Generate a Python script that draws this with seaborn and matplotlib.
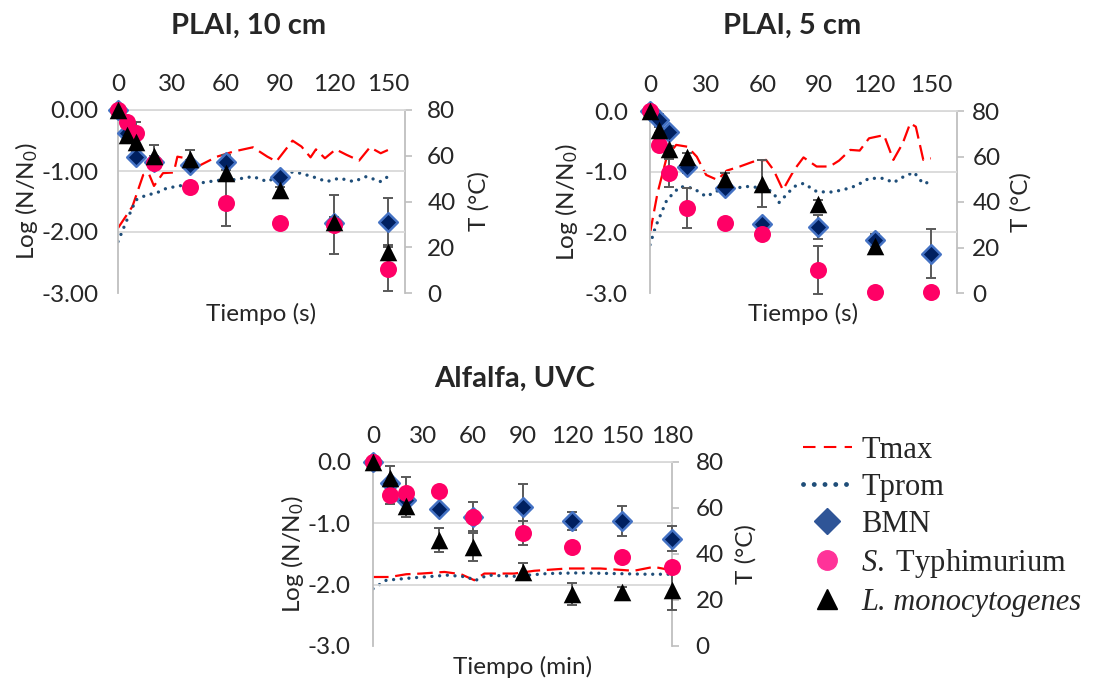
import matplotlib
matplotlib.use("Agg")
import matplotlib.pyplot as plt
from matplotlib.lines import Line2D
from matplotlib.ticker import FormatStrFormatter
import numpy as np
import seaborn as sns

# ---- PLAI, 10 cm ----
t_10 = [0, 5, 10, 20, 40, 60, 90, 120, 150]
bmn_10 = [0, -0.38, -0.77, -0.86, -0.90, -0.86, -1.10, -1.85, -1.83]
bmn_10_sd = [0, 0.05, 0.08, 0.10, 0.08, 0.12, 0.05, 0.10, 0.39]
sty_10 = [0, -0.19, -0.38, -0.87, -1.27, -1.53, -1.86, -1.88, -2.60]
sty_10_sd = [0, 0.05, 0.18, 0.10, 0.07, 0.37, 0.05, 0.48, 0.37]
lmo_10 = [0, -0.41, -0.52, -0.75, -0.80, -1.04, -1.31, -1.83, -2.32]
lmo_10_sd = [0, 0.05, 0.05, 0.17, 0.14, 0.10, 0.05, 0.08, 0.08]
tmax_10_t = [0, 8, 14, 17, 20, 25, 31, 33, 38, 40, 45, 55, 64, 75, 83, 88,
             97, 102, 107, 110, 115, 121, 127, 134, 140, 146, 150]
tmax_10 = [28.4, 37.8, 51.6, 52.4, 46.8, 52.4, 52.7, 59.6, 58.9, 52.4, 55.6,
           59.6, 61.8, 63.7, 59.6, 57.5, 66.6, 64.0, 59.3, 62.8, 58.9, 62.8,
           60.4, 57.9, 63.7, 61.1, 62.5]
tprom_10_t = [0, 5, 10, 16, 21, 27, 34, 40, 45, 55, 64, 75, 83, 94, 101,
              108, 116, 123, 131, 138, 146, 150]
tprom_10 = [22.5, 32.0, 40.7, 42.9, 43.6, 45.8, 46.8, 47.7, 48.0, 49.2, 49.5,
            50.9, 48.7, 53.1, 52.4, 50.9, 48.7, 50.2, 48.7, 50.9, 48.7, 50.9]

# ---- PLAI, 5 cm ----
t_5 = [0, 5, 10, 20, 40, 60, 90, 120, 150]
bmn_5 = [0, -0.15, -0.34, -0.92, -1.27, -1.86, -1.91, -2.13, -2.35]
bmn_5_sd = [0, 0.10, 0.05, 0.10, 0.08, 0.07, 0.20, 0.10, 0.40]
sty_5 = [0, -0.56, -1.02, -1.60, -1.84, -2.02, -2.62, -2.98, -2.98]
sty_5_sd = [0, 0.05, 0.23, 0.33, 0.08, 0.03, 0.39, 0.02, 0.02]
lmo_5 = [0, -0.32, -0.62, -0.76, -1.12, -1.20, -1.53, -2.22, np.nan]
lmo_5_sd = [0, 0.05, 0.05, 0.06, 0.10, 0.39, 0.07, 0.08, np.nan]
tmax_5_t = [0, 4, 9, 14, 20, 25, 30, 36, 41, 48, 55, 62, 66, 71, 77, 82, 89,
            96, 101, 107, 112, 117, 125, 130, 135, 139, 142, 146, 150]
tmax_5 = [26.3, 43.9, 59.9, 65.1, 64.3, 59.9, 51.9, 49.7, 53.8, 55.6, 57.7,
          58.5, 54.1, 45.3, 54.1, 59.6, 55.6, 55.6, 58.2, 62.9, 62.6, 68.0,
          69.4, 58.5, 65.8, 74.6, 73.1, 58.5, 59.2]
tprom_5_t = [0, 3, 9, 16, 23, 30, 37, 45, 52, 62, 66, 69, 77, 82, 89, 96,
             103, 110, 117, 125, 130, 135, 141, 146, 150]
tprom_5 = [21.2, 29.2, 40.9, 46.8, 46.1, 42.4, 45.3, 46.1, 46.8, 46.1, 43.9,
           39.8, 46.8, 48.2, 44.6, 44.3, 45.3, 47.1, 50.4, 50.4, 48.5, 50.9,
           53.1, 48.0, 49.0]

# ---- Alfalfa, UVC ----
t_uv = [0, 10, 20, 40, 60, 90, 120, 150, 180]
bmn_uv = [0, -0.34, -0.62, -0.77, -0.89, -0.73, -0.96, -0.96, -1.25]
bmn_uv_sd = [0, 0.05, 0.06, 0.05, 0.24, 0.37, 0.15, 0.25, 0.20]
sty_uv = [0, -0.54, -0.51, -0.48, -0.89, -1.16, -1.39, -1.55, -1.71]
sty_uv_sd = [0, 0.15, 0.27, 0.05, 0.05, 0.19, 0.05, 0.05, 0.05]
lmo_uv = [0, -0.26, -0.72, -1.27, -1.38, -1.79, -2.15, -2.12, -2.09]
lmo_uv_sd = [0, 0.20, 0.17, 0.19, 0.23, 0.14, 0.18, 0.08, 0.33]
tmax_uv_t = [0, 10, 20, 29, 43, 53, 61, 67, 85, 97, 117, 137, 157, 169, 180]
tmax_uv = [30.0, 30.0, 31.2, 31.5, 32.2, 31.2, 28.6, 31.5, 31.5, 32.7, 33.7,
           33.7, 32.7, 34.4, 32.9]
tprom_uv_t = [0, 8, 25, 45, 57, 61, 69, 85, 105, 125, 145, 165, 180]
tprom_uv = [24.9, 28.6, 29.7, 30.8, 30.0, 28.3, 30.8, 30.3, 31.5, 31.8, 31.5,
            31.2, 31.2]

W, H = 1093, 681
FS = 17.5

sns.set_style("white")
plt.rcParams["font.family"] = ["Lato", "DejaVu Sans"]
plt.rcParams["axes.unicode_minus"] = False
plt.rcParams["mathtext.fontset"] = "custom"
plt.rcParams["mathtext.it"] = "Liberation Serif:italic"
plt.rcParams["mathtext.rm"] = "Liberation Serif"

RED = "#FF0000"
TBLUE = "#1F4E79"
NAVY = "#002060"
BLUE_EDGE = "#4472C4"
PINK = "#FF0066"
GRID = "#D9D9D9"
AXIS = "#BFBFBF"
ERR = "#595959"

fig = plt.figure(figsize=(W / 100, H / 100), dpi=100)


def px_rect(left, top, right, bottom):
    return [left / W, 1 - bottom / H, (right - left) / W, (bottom - top) / H]


def draw_panel(rect, t, series, tmax_t, tmax, tprom_t, tprom, xmax, xticks,
               yfmt, xlabel, lpad, rpad, ylab_x, rlab_x):
    ax = fig.add_axes(rect)
    ax2 = ax.twinx()
    ax.set_zorder(ax2.get_zorder() + 1)
    ax.patch.set_visible(False)

    # temperature curves on the secondary axis
    sns.lineplot(x=tmax_t, y=tmax, ax=ax2, color=RED, linewidth=1.6,
                 linestyle=(0, (7, 3)), sort=False)
    sns.lineplot(x=tprom_t, y=tprom, ax=ax2, color=TBLUE, linewidth=2.4,
                 linestyle=(0, (0.01, 2.3)), dash_capstyle="round", sort=False)
    ax2.set_ylim(0, 80)
    ax2.set_yticks([0, 20, 40, 60, 80])
    ax2.set_ylabel("T (°C)", fontsize=FS, va="center")
    ax2.yaxis.set_label_coords(rlab_x, 0.5)
    ax2.tick_params(axis="y", direction="out", length=5, width=1.2,
                    color=AXIS, pad=rpad, labelsize=FS)
    for s in ["top", "bottom", "left"]:
        ax2.spines[s].set_visible(False)
    ax2.spines["right"].set_color(AXIS)
    ax2.spines["right"].set_linewidth(1.3)

    # counts
    bmn, bmn_sd, sty, sty_sd, lmo, lmo_sd = series
    for vals, sd in [(bmn, bmn_sd), (sty, sty_sd), (lmo, lmo_sd)]:
        ax.errorbar(t, vals, yerr=sd, fmt="none", ecolor=ERR, elinewidth=1.4,
                    capsize=3.5, capthick=1.4, zorder=2, clip_on=False)
    sns.scatterplot(x=t, y=bmn, ax=ax, marker="D", s=90, color=NAVY,
                    edgecolor=BLUE_EDGE, linewidth=1.8, zorder=3, clip_on=False)
    sns.scatterplot(x=t, y=sty, ax=ax, marker="o", s=150, color=PINK,
                    edgecolor=PINK, linewidth=0, zorder=4, clip_on=False)
    sns.scatterplot(x=t, y=lmo, ax=ax, marker="^", s=160, color="black",
                    edgecolor="black", linewidth=0, zorder=5, clip_on=False)

    ax.set_xlim(0, xmax)
    ax.set_xticks(xticks)
    ax.set_ylim(-3, 0)
    ax.set_yticks([-3, -2, -1, 0])
    ax.yaxis.set_major_formatter(FormatStrFormatter(yfmt))
    ax.tick_params(axis="x", top=True, bottom=False, labeltop=True,
                   labelbottom=False, length=0, pad=11, labelsize=FS)
    ax.tick_params(axis="y", length=0, pad=lpad, labelsize=FS)
    ax.grid(axis="y", color=GRID, linewidth=1.3)
    ax.grid(axis="x", visible=False)
    ax.get_ygridlines()[0].set_visible(False)
    for s in ["right", "bottom"]:
        ax.spines[s].set_visible(False)
    ax.spines["top"].set_color(GRID)
    ax.spines["top"].set_linewidth(1.3)
    ax.spines["left"].set_color(AXIS)
    ax.spines["left"].set_linewidth(1.3)
    ax.set_xlabel(xlabel, fontsize=FS, labelpad=7)
    ax.set_ylabel("Log (N/N$_\\mathregular{0}$)", fontsize=FS, va="center")
    ax.yaxis.set_label_coords(ylab_x, 0.5)
    return ax


draw_panel(px_rect(118, 110, 405, 293), t_10,
           (bmn_10, bmn_10_sd, sty_10, sty_10_sd, lmo_10, lmo_10_sd),
           tmax_10_t, tmax_10, tprom_10_t, tprom_10, 159.5,
           [0, 30, 60, 90, 120, 150], "%.2f", "Tiempo (s)", 14, 11,
           (27 - 118) / 287, (479 - 118) / 287)
draw_panel(px_rect(650, 111, 957, 293), t_5,
           (bmn_5, bmn_5_sd, sty_5, sty_5_sd, lmo_5, lmo_5_sd),
           tmax_5_t, tmax_5, tprom_5_t, tprom_5, 164,
           [0, 30, 60, 90, 120, 150], "%.1f", "Tiempo (s)", 16, 6,
           (567 - 650) / 307, (1021 - 650) / 307)
draw_panel(px_rect(373, 462, 672, 646), t_uv,
           (bmn_uv, bmn_uv_sd, sty_uv, sty_uv_sd, lmo_uv, lmo_uv_sd),
           tmax_uv_t, tmax_uv, tprom_uv_t, tprom_uv, 180,
           [0, 30, 60, 90, 120, 150, 180], "%.1f", "Tiempo (min)", 16, 12,
           (292 - 373) / 299, (746 - 373) / 299)

fig.text(249 / W, 1 - 26 / H, "PLAI, 10 cm", ha="center", va="center",
         fontsize=21, fontweight="bold")
fig.text(792 / W, 1 - 26 / H, "PLAI, 5 cm", ha="center", va="center",
         fontsize=21, fontweight="bold")
fig.text(515 / W, 1 - 379 / H, "Alfalfa, UVC", ha="center", va="center",
         fontsize=21, fontweight="bold")

handles = [
    Line2D([], [], color=RED, linewidth=1.5, linestyle=(0, (6, 4))),
    Line2D([], [], color=TBLUE, linewidth=3.5, linestyle=(0, (0.01, 2.2)),
           dash_capstyle="round"),
    Line2D([], [], color="#2F5597", marker="D", markersize=13, linestyle="none"),
    Line2D([], [], color="#FF3399", marker="o", markersize=14, linestyle="none"),
    Line2D([], [], color="black", marker="^", markersize=14, linestyle="none"),
]
labels = ["Tmax", "Tprom", "BMN", "$\\mathit{S.}$ Typhimurium",
          "L. monocytogenes"]
leg = fig.legend(handles, labels, loc="upper left",
                 bbox_to_anchor=(803 / W, 1 - 436 / H), frameon=False,
                 prop={"family": "Liberation Serif", "size": 22},
                 handlelength=1.6, handletextpad=0.3, labelspacing=0.26,
                 borderpad=0, borderaxespad=0)
leg.get_texts()[4].set_fontstyle("italic")

fig.savefig("out.png", dpi=100)
